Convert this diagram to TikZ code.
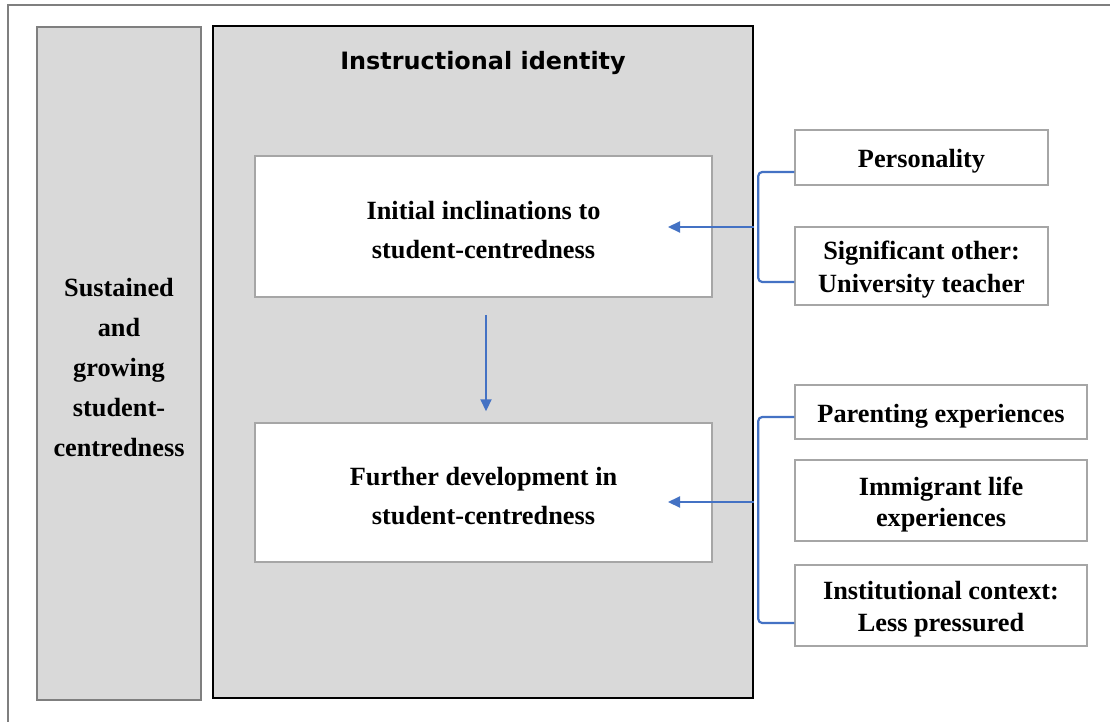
\documentclass[tikz,border=0pt]{standalone}
\usepackage{fontspec}
\setmainfont{Liberation Serif}
\newfontfamily\titlefont{DejaVu Sans}
\usetikzlibrary{arrows.meta}
\definecolor{panel}{HTML}{D9D9D9}
\definecolor{frameline}{HTML}{7F7F7F}
\definecolor{boxline}{HTML}{A6A6A6}
\definecolor{link}{HTML}{4472C4}
\tikzset{
  txtbox/.style={draw=boxline, line width=1.5pt, fill=white, rectangle, inner sep=0pt},
  lbl/.style={align=center, inner sep=0pt, yshift=-4pt,
    font=\fontsize{26.3}{#1}\selectfont\bfseries},
  lbl/.default=33,
  conn/.style={draw=link, line width=2.2pt, rounded corners=4pt},
  arr/.style={draw=link, line width=2.2pt, -{Triangle[length=12pt,width=11pt]}}
}
\begin{document}
\begin{tikzpicture}[x=1pt,y=-1pt]
\useasboundingbox (0,0) rectangle (1110,722);
\fill[white] (0,0) rectangle (1110,722);
% outer frame
\draw[frameline, line width=2pt] (8,722) -- (8,5) -- (1110,5);

% side panel and main panel
\node[draw=frameline, fill=panel, line width=2pt, minimum width=164pt, minimum height=673pt,
  inner sep=0pt] (side) at (119,363.5) {};
\node[align=center, font=\fontsize{26.3}{40}\selectfont\bfseries] (sidetxt) at (119,368)
  {Sustained\\and\\growing\\student-\\centredness};
\node[draw=black, fill=panel, line width=2pt, minimum width=540pt, minimum height=672pt,
  inner sep=0pt] (main) at (483,362) {};
\node[font=\titlefont\fontsize{23.9}{28}\selectfont\bfseries] (title) at (483,63.5) {Instructional identity};

% inner boxes
\node[txtbox, minimum width=457pt, minimum height=141pt,
  label={[lbl=39]center:{Initial inclinations to\\student-centredness}}] (box1) at (483.5,226.5) {};
\node[txtbox, minimum width=457pt, minimum height=139pt,
  label={[lbl=39]center:{Further development in\\student-centredness}}] (box2) at (483.5,492.5) {};

% influence boxes
\node[txtbox, minimum width=253pt, minimum height=55pt,
  label={[lbl]center:{Personality}}] (pers) at (921.5,157.5) {};
\node[txtbox, minimum width=253pt, minimum height=78pt,
  label={[lbl=33]center:{Significant other:\\University teacher}}] (sig) at (921.5,266) {};
\node[txtbox, minimum width=292pt, minimum height=54pt,
  label={[lbl]center:{Parenting experiences}}] (par) at (941,412) {};
\node[txtbox, minimum width=292pt, minimum height=81pt,
  label={[lbl=31.5]center:{Immigrant life\\experiences}}] (imm) at (941,500.5) {};
\node[txtbox, minimum width=292pt, minimum height=81pt,
  label={[lbl=32]center:{Institutional context:\\Less pressured}}] (inst) at (941,605.5) {};

% brackets grouping the influences
\draw[conn] ([yshift=-14.5pt]pers.west) -- ++(-36,0) |- ([yshift=-16pt]sig.west);
\draw[conn] ([yshift=-5pt]par.west) -- ++(-36,0) |- ([yshift=-17.5pt]inst.west);

% arrows into the boxes
\coordinate (j1) at (main.east |- 0,227);
\coordinate (t1) at (668,227);
\coordinate (j2) at (main.east |- 0,502);
\coordinate (t2) at (668,502);
\draw[arr] (j1) -- (t1);
\draw[arr] (j2) -- (t2);
\draw[arr] ([xshift=2.5pt,yshift=-17pt]box1.south) -- ([xshift=2.5pt,yshift=11pt]box2.north);
\end{tikzpicture}
\end{document}
